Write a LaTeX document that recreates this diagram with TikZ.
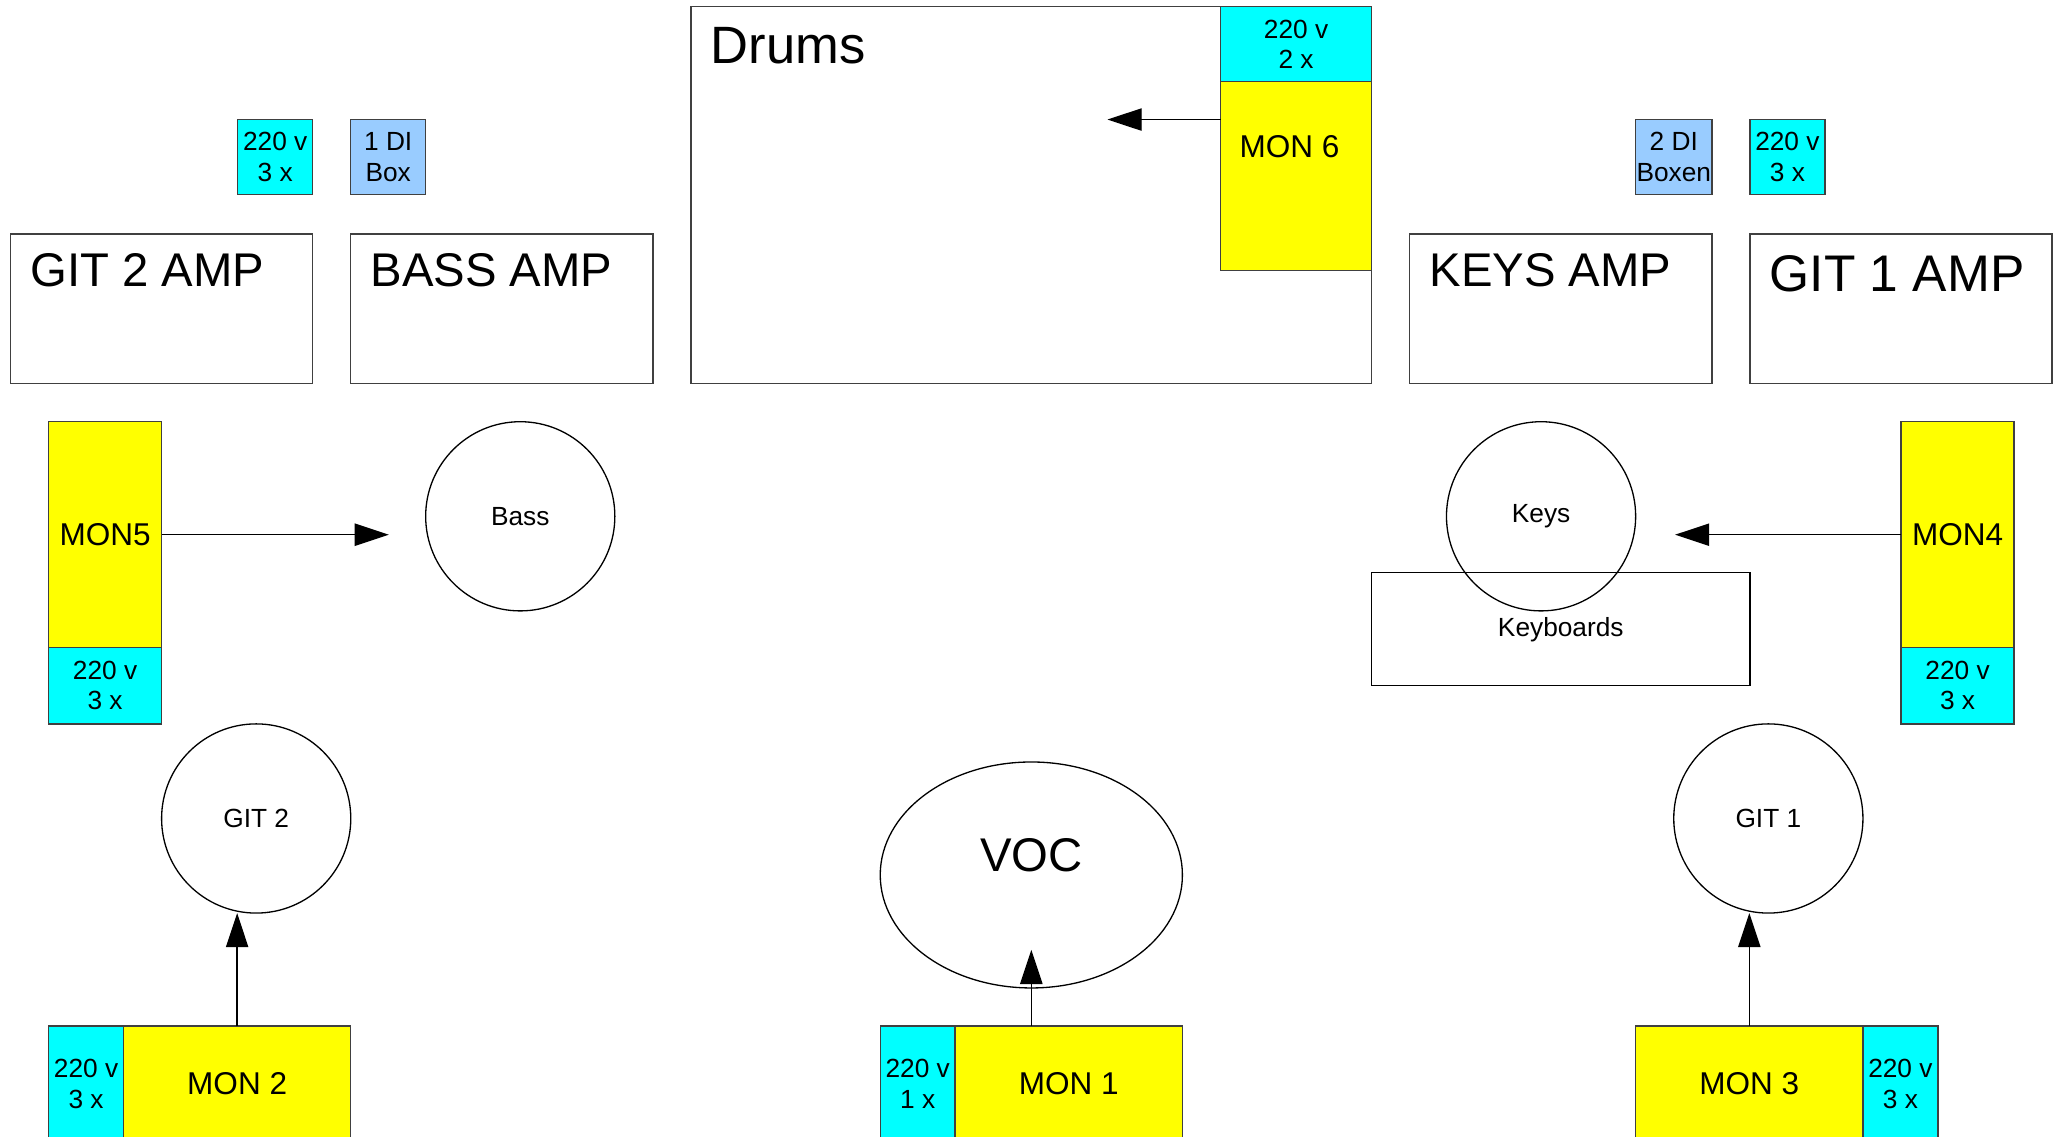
\documentclass[tikz,border=0pt]{standalone}
\usepackage{fontspec}
\setmainfont{Liberation Sans}
\usetikzlibrary{arrows.meta,positioning,shapes.geometric}
\definecolor{diblue}{RGB}{153,204,255}
\definecolor{powcyan}{RGB}{0,255,255}
\definecolor{monyellow}{RGB}{255,255,0}
\newcommand\ampfont{\fontsize{18}{21}\selectfont}
\newcommand\drumfont{\fontsize{20}{23}\selectfont}
\newcommand\monfont{\fontsize{12}{14}\selectfont}
\newcommand\labfont{\fontsize{10}{11.5}\selectfont}
\tikzset{
  box/.style={draw=black!75, line width=0.5pt, inner sep=0pt, outer sep=0pt},
  amp/.style={box, minimum width=115pt, minimum height=57pt},
  power/.style={box, fill=powcyan, minimum width=28.5pt, minimum height=28.5pt, align=center, font=\labfont},
  dibox/.style={box, fill=diblue, minimum width=28.5pt, minimum height=28.5pt, align=center, font=\labfont},
  monitor/.style={box, fill=monyellow, font=\monfont},
  player/.style={draw, circle, line width=0.5pt, minimum size=72pt, inner sep=0pt, font=\labfont},
  voice/.style={draw, ellipse, line width=0.5pt, minimum width=115pt, minimum height=86pt, inner sep=0pt},
  arrow/.style={-{Triangle[length=13pt,width=8.5pt]}, line width=0.5pt}
}
\begin{document}
\begin{tikzpicture}[x=0.5pt, y=-0.5pt]
  % Buehne
  \path[use as bounding box, fill=white] (0,0) rectangle (1568,865);

  % Schlagzeug mit Monitor 6
  \node[box, minimum width=259pt, minimum height=143.5pt] (drums) at (785,148.5) {};
  \node[anchor=base west, font=\drumfont] (drumstxt) at ([shift={(8,43)}]drums.north west) {Drums};
  \node[power, minimum width=57.5pt] (pwdrums) at (986.5,33.5) {220 v\\2 x};
  \node[monitor, minimum width=57.5pt, minimum height=72pt] (mon6) at (986.5,134) {};
  \node[font=\monfont] (mon6txt) at ([shift={(-5,50)}]mon6.north) {MON 6};

  % Verstaerker
  \node[amp] (git2amp) at (123,235) {};
  \node[amp] (bassamp) at (382,235) {};
  \node[amp] (keysamp) at (1188,235) {};
  \node[amp] (git1amp) at (1447,235) {};
  \node[anchor=base west, font=\ampfont] (git2amptxt) at ([shift={(8,40)}]git2amp.north west) {GIT 2 AMP};
  \node[anchor=base west, font=\ampfont] (bassamptxt) at ([shift={(8,40)}]bassamp.north west) {BASS AMP};
  \node[anchor=base west, font=\ampfont] (keysamptxt) at ([shift={(8,40)}]keysamp.north west) {KEYS AMP};
  \node[anchor=base west, font=\fontsize{19.6}{23}\selectfont] (git1amptxt) at ([shift={(8,44)}]git1amp.north west) {GIT 1 AMP};

  % DI-Boxen und Strom
  \node[power] (pwgit2) at (209.5,119.5) {220 v\\3 x};
  \node[dibox] (dibass) at (295.5,119.5) {1 DI\\Box};
  \node[dibox, minimum width=29pt] (dikeys) at (1274,119.5) {2 DI\\Boxen};
  \node[power] (pwgit1) at (1360.5,119.5) {220 v\\3 x};

  % Seitenmonitore
  \node[monitor, minimum width=43pt, minimum height=86pt] (mon5) at (80,407) {MON5};
  \node[power, minimum width=43pt, minimum height=29pt, below=0pt of mon5] (pwmon5) {220 v\\3 x};
  \node[monitor, minimum width=43pt, minimum height=86pt] (mon4) at (1490,407) {MON4};
  \node[power, minimum width=43pt, minimum height=29pt, below=0pt of mon4] (pwmon4) {220 v\\3 x};

  % Musiker
  \node[player] (bass) at (396,393) {Bass};
  \node[player] (keys) at (1173,393) {Keys};
  \node[box, draw=black, minimum width=144pt, minimum height=43pt, font=\labfont] (kbd) at (1188,479) {Keyboards};
  \node[player] (git2) at (195,623) {GIT 2};
  \node[player] (git1) at (1346,623) {GIT 1};
  \node[voice] (voc) at (785,666) {};
  \node[font=\ampfont] (voctxt) at ([yshift=7.5pt]voc.center) {VOC};

  % Bodenmonitore
  \node[monitor, minimum width=86.5pt, minimum height=44pt] (mon2) at (180.5,825) {MON 2};
  \node[power, minimum height=44pt, left=0pt of mon2] (pwmon2) {220 v\\3 x};
  \node[monitor, minimum width=86.5pt, minimum height=44pt] (mon1) at (813.5,825) {MON 1};
  \node[power, minimum height=44pt, left=0pt of mon1] (pwmon1) {220 v\\1 x};
  \node[monitor, minimum width=86.5pt, minimum height=44pt] (mon3) at (1331.5,825) {MON 3};
  \node[power, minimum height=44pt, right=0pt of mon3] (pwmon3) {220 v\\3 x};

  % Richtung der Monitore
  \coordinate (m6tip) at (843,91);
  \coordinate (m5tip) at (296,407);
  \coordinate (m4tip) at (1275,407);
  \coordinate (m2tip) at (180.5,695);
  \coordinate (m1tip) at (785,723);
  \coordinate (m3tip) at (1331.5,695);
  \draw[arrow] (mon6.west |- m6tip) -- (m6tip);
  \draw[arrow] (mon5.east) -- (m5tip);
  \draw[arrow] (mon4.west) -- (m4tip);
  \draw[arrow] (mon2.north) -- (m2tip);
  \draw[arrow] (mon1.north -| m1tip) -- (m1tip);
  \draw[arrow] (mon3.north) -- (m3tip);
\end{tikzpicture}
\end{document}
